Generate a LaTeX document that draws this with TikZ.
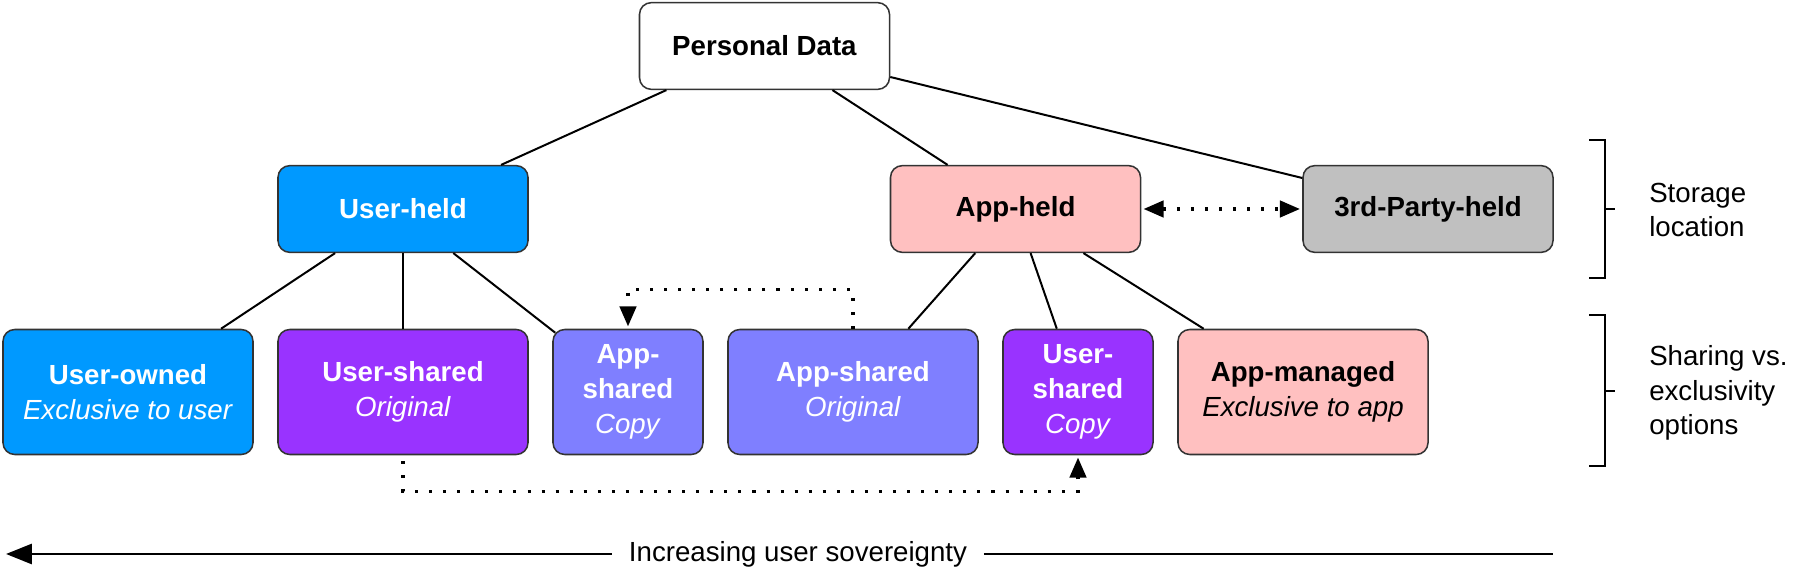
\documentclass[tikz,border=0pt]{standalone}
\usepackage{fontspec}
\setmainfont{Liberation Sans}
\usetikzlibrary{positioning,calc,arrows.meta}

\definecolor{userblue}{HTML}{0099FF}
\definecolor{userpurple}{HTML}{9933FF}
\definecolor{applilac}{HTML}{7F7FFF}
\definecolor{apppink}{HTML}{FFC0C0}
\definecolor{partygray}{HTML}{C0C0C0}

\tikzset{
  databox/.style={draw=black!80, line width=0.65pt, rounded corners=5pt, align=center, inner sep=0pt, minimum width=3.75cm},
  holder/.style={databox, minimum height=1.3cm},
  option/.style={databox, minimum height=1.875cm},
  slim/.style={minimum width=2.25cm},
  link/.style={line width=0.85pt},
  dotlink/.style={line width=1.3pt, dash pattern=on 1.3pt off 4.7pt}
}

\begin{document}
\begin{tikzpicture}[x=0.015cm, y=-0.015cm, >={Triangle[length=8.5pt,width=7pt]}, font=\fontsize{11.8}{14.8}\selectfont]
        \useasboundingbox (0,0) rectangle (1813,586);

        % Nodes
        \node[holder, fill=white] (personal) at (764.5,46) {\textbf{Personal Data}};
        \node[holder, fill=userblue, text=white] (userheld) at (403,209) {\textbf{User-held}};
        \node[holder, fill=apppink] (appheld) at (1015.5,209) {\textbf{App-held}};
        \node[holder, fill=partygray] (thirdparty) at (1428,209) {\textbf{3rd-Party-held}};

        \node[option, fill=userblue, text=white] (userowned) at (128,392) {\textbf{User-owned}\\\textit{Exclusive to user}};
        \node[option, fill=userpurple, text=white] (usershared) at (403,392) {\textbf{User-shared}\\\textit{Original}};
        \node[option, slim, fill=applilac, text=white] (appcopy) at (628,392) {\textbf{App-}\\\textbf{shared}\\\textit{Copy}};
        \node[option, fill=applilac, text=white] (appshared) at (853,392) {\textbf{App-shared}\\\textit{Original}};
        \node[option, slim, fill=userpurple, text=white] (usercopy) at (1078,392) {\textbf{User-}\\\textbf{shared}\\\textit{Copy}};
        \node[option, fill=apppink] (appmanaged) at (1303,392) {\textbf{App-managed}\\\textit{Exclusive to app}};

        % Side labels
        \node[anchor=west, align=left] (storelbl) at (1641,210) {Storage\\location};
        \node[anchor=west, align=left] (sharelbl) at (1641,393) {Sharing vs.\\exclusivity\\options};
        \node[inner xsep=7pt] (sovereign) at (798,554) {Increasing user sovereignty};
        \coordinate (sovleft) at (6,554);
        \coordinate (sovright) at (1553,554);

        % Tree lines
        \draw[link] ($(personal.south west)!0.11!(personal.south east)$) -- ($(userheld.north west)!0.89!(userheld.north east)$);
        \draw[link] ($(personal.south west)!0.77!(personal.south east)$) -- ($(appheld.north west)!0.23!(appheld.north east)$);
        \draw[link] ($(personal.east)+(0,31)$) -- ($(thirdparty.west)+(0,-31)$);

        \draw[link] ($(userheld.south west)!0.23!(userheld.south east)$) -- ($(userowned.north west)!0.87!(userowned.north east)$);
        \draw[link] (userheld.south) -- (usershared.north);
        \draw[link] ($(userheld.south west)!0.70!(userheld.south east)$) -- ($(appcopy.north west)+(3,4)$);
        \draw[link] ($(appheld.south west)!0.34!(appheld.south east)$) -- ($(appshared.north west)!0.72!(appshared.north east)$);
        \draw[link] ($(appheld.south west)!0.56!(appheld.south east)$) -- ($(usercopy.north west)!0.36!(usercopy.north east)$);
        \draw[link] ($(appheld.south west)!0.77!(appheld.south east)$) -- ($(appmanaged.north west)!0.105!(appmanaged.north east)$);

        % Dotted arrows
        \draw[dotlink, <->, shorten <=1pt, shorten >=1pt] (appheld.east) -- (thirdparty.west);
        \draw[dotlink, ->, shorten >=1pt] (appshared.north) -- ++(0,-39) -| (appcopy.north);
        \draw[dotlink, ->, shorten <=2.5pt, shorten >=1pt] (usershared.south) -- ++(0,36) -| (usercopy.south);

        % Brackets
        \draw[line width=0.85pt] (1589,140) -- (1605,140) -- (1605,278) -- (1589,278);
        \draw[line width=0.85pt] (1605,209) -- (1615,209);
        \draw[line width=0.85pt] (1589,315) -- (1605,315) -- (1605,466) -- (1589,466);
        \draw[line width=0.85pt] (1605,391) -- (1615,391);

        % Sovereignty axis
        \draw[line width=1.2pt, {Triangle[length=11pt,width=8.5pt]}-] (sovleft) -- (sovereign.west);
        \draw[line width=1.2pt] (sovereign.east) -- (sovright);
    \end{tikzpicture}
\end{document}
